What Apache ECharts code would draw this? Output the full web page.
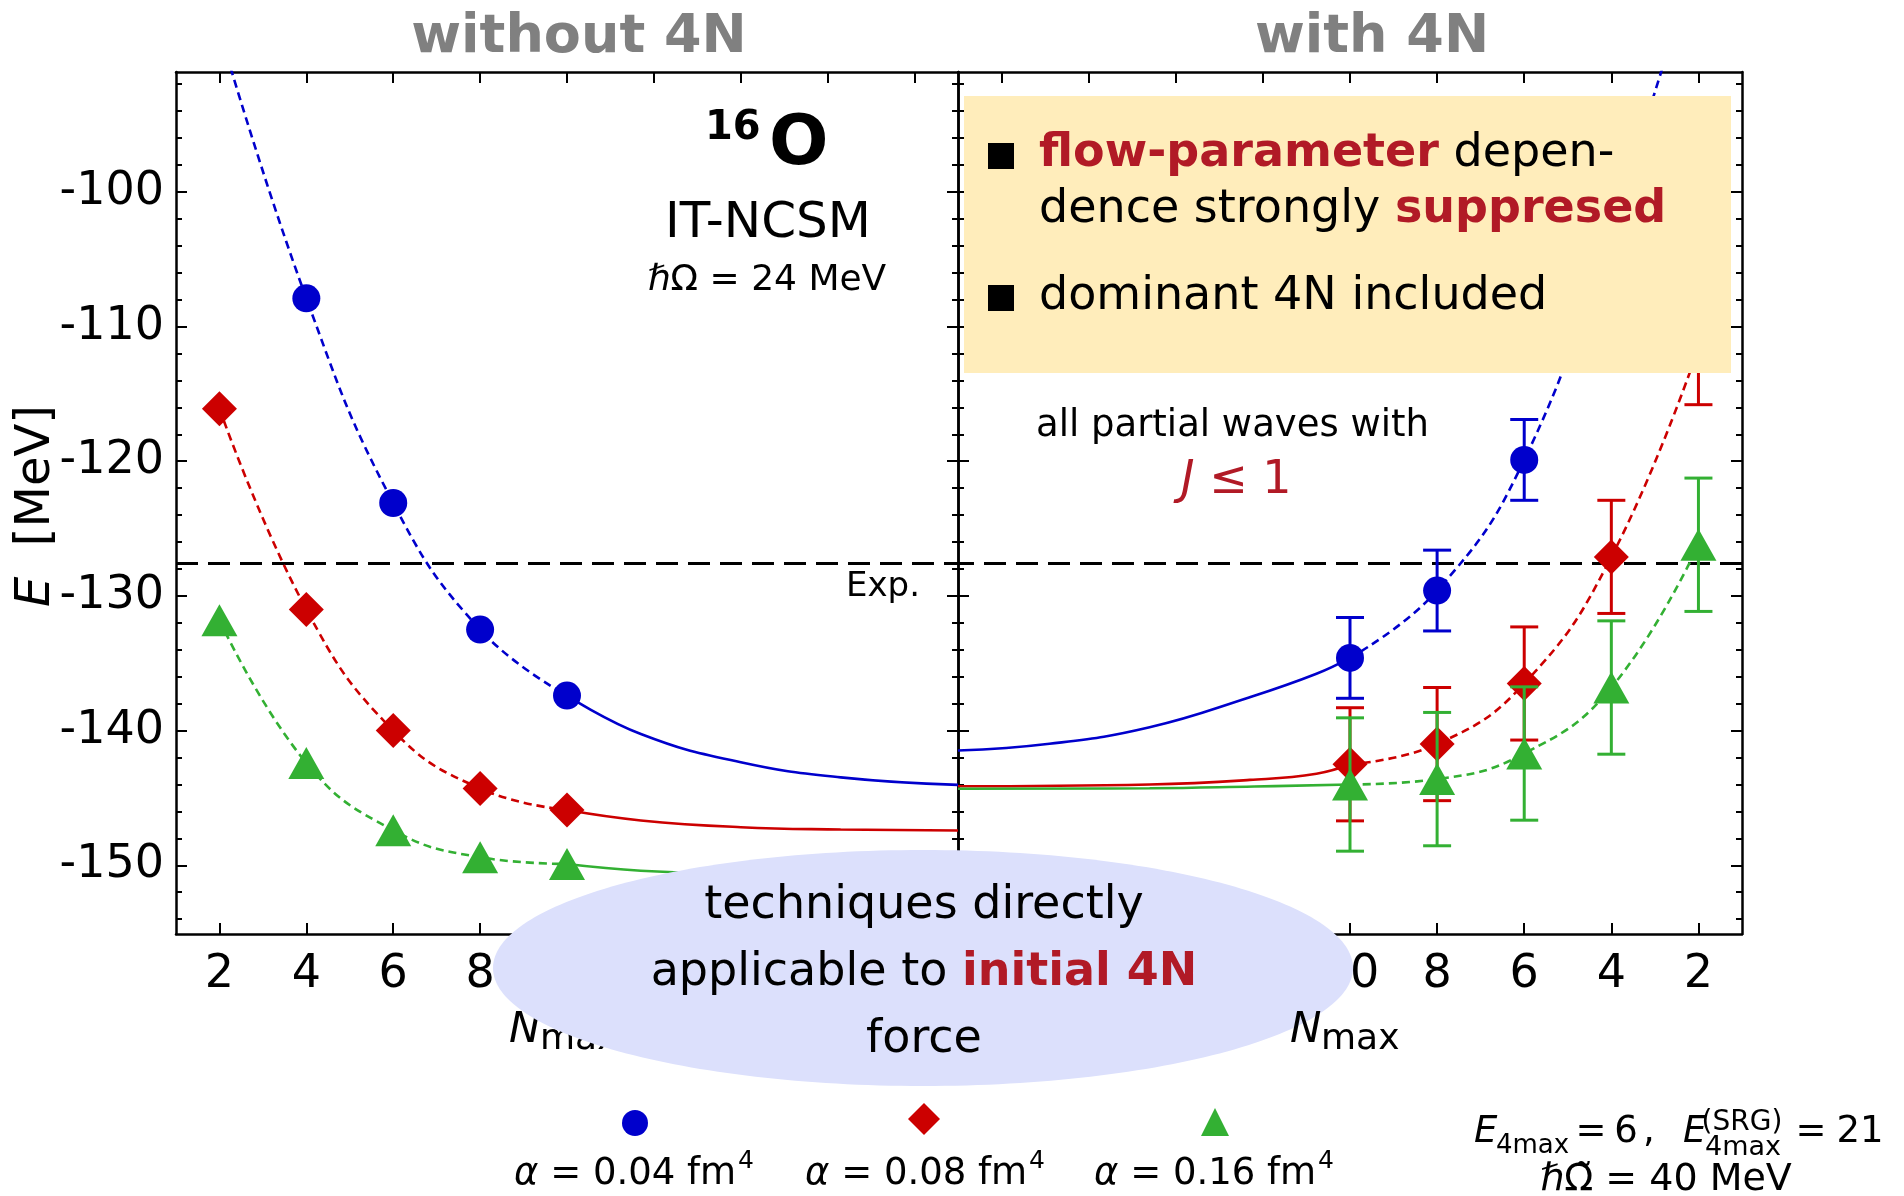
<!DOCTYPE html>
<html><head><meta charset="utf-8">
<script src="https://cdn.jsdelivr.net/npm/echarts@6/dist/echarts.min.js"></script>
<style>html,body{margin:0;padding:0;background:#fff}#c{width:1904px;height:1196px}</style>
</head><body><div id="c"></div>
<script>
// ---------------- data ----------------
const xTicks = [2, 4, 6, 8, 10, 12, 14, 16, 18];
const yMajor = [-150, -140, -130, -120, -110, -100];
const yMinor = [-154,-152,-148,-146,-144,-142,-138,-136,-134,-132,-128,-126,-124,-122,-118,-116,-114,-112,-108,-106,-104,-102,-98,-96,-94,-92];
const expEnergy = -127.6;
const seriesNames = ['α = 0.04 fm⁴', 'α = 0.08 fm⁴', 'α = 0.16 fm⁴'];
const alphaValues = ['0.04', '0.08', '0.16'];

// without 4N (left panel): [Nmax, E]
const noBlue  = [[2, -88.0], [4, -107.9], [6, -123.1], [8, -132.5], [10, -137.4]];
const noRed   = [[2, -116.1], [4, -131.0], [6, -140.0], [8, -144.3], [10, -145.9]];
const noGreen = [[2, -131.8], [4, -142.4], [6, -147.4], [8, -149.4], [10, -149.9]];
const noBlueExtrap  = [[10, -137.4], [11.7, -140.25], [14, -142.35], [16.3, -143.47], [19, -144.03]];
const noRedExtrap   = [[10, -145.9], [11.7, -146.67], [14, -147.17], [16.3, -147.34], [19, -147.42]];
const noGreenExtrap = [[10, -149.9], [11.7, -150.4], [14, -150.65], [16.3, -150.8], [19, -150.88]];

// with 4N (right panel): [Nmax, E, error]
const wBlue  = [[10, -134.6, 3.0], [8, -129.6, 3.0], [6, -119.9, 3.0], [4, -102.5, 3.0], [2, -82.0, 3.0]];
const wRed   = [[10, -142.5, 4.2], [8, -141.0, 4.2], [6, -136.5, 4.2], [4, -127.1, 4.2], [2, -111.6, 4.2]];
const wGreen = [[10, -144.0, 4.95], [8, -143.6, 4.95], [6, -141.7, 4.95], [4, -136.8, 4.95], [2, -126.2, 4.95]];
const wBlueExtrap  = [[10, -134.6], [10.77, -135.78], [12.3, -137.52], [14.6, -139.75], [16.9, -140.98], [19, -141.48]];
const wRedExtrap   = [[10, -142.5], [10.77, -143.2], [12.3, -143.66], [14.6, -144.0], [19, -144.13]];
const wGreenExtrap = [[10, -144.0], [12.2, -144.15], [14.6, -144.28], [19, -144.32]];

// ---------------- style ----------------
const FONT = 'DejaVu Sans';
const BLUE = '#0000cc', RED = '#cc0000', GREEN = '#33b033';
const HL = '#b11a26';
const GRAY = '#808080';

const chart = echarts.init(document.getElementById('c'), null, {renderer: 'canvas'});

const mctx = document.createElement('canvas').getContext('2d');
function tw(text, fs, italic) {
  mctx.font = (italic ? 'italic ' : '') + fs + 'px "' + FONT + '"';
  return mctx.measureText(text).width;
}

function xAx(grid, pos, inverse, labels) {
  return {
    gridIndex: grid, type: 'value', min: 1, max: 19, inverse: inverse, position: pos,
    axisLine: {show: true, onZero: false, lineStyle: {color: '#000', width: 2.5}},
    axisTick: {show: true, inside: true, length: 11, customValues: xTicks, lineStyle: {color: '#000', width: 2}},
    axisLabel: labels ? {show: true, customValues: xTicks, fontSize: 46, fontFamily: FONT, color: '#000', margin: 18} : {show: false},
    splitLine: {show: false}
  };
}
function yAx(grid, pos, vals, len, labels, line) {
  return {
    gridIndex: grid, type: 'value', min: -155.1, max: -91.1, position: pos,
    axisLine: {show: line, onZero: false, lineStyle: {color: '#000', width: 2.5}},
    axisTick: {show: true, inside: true, length: len, customValues: vals, lineStyle: {color: '#000', width: 2}},
    axisLabel: labels ? {show: true, customValues: yMajor, fontSize: 46, fontFamily: FONT, color: '#000', margin: 12} : {show: false},
    splitLine: {show: false}
  };
}

function lineS(data, color, dashed, xi, yi, z) {
  return {
    type: 'line', data: data, xAxisIndex: xi, yAxisIndex: yi, symbol: 'none', showSymbol: false,
    smooth: 0.45, clip: true, silent: true, z: z || 2,
    lineStyle: {color: color, width: 2.6, type: dashed ? [8, 5] : 'solid'}
  };
}
function scatS(name, data, color, symbol, size, xi, yi, z) {
  return {
    type: 'scatter', name: name, data: data.map(p => [p[0], p[1]]), xAxisIndex: xi, yAxisIndex: yi,
    symbol: symbol, symbolSize: size, clip: true, silent: true, z: z,
    itemStyle: {color: color, opacity: 1}
  };
}
function errS(data, color, xi, yi, z) {
  return {
    type: 'custom', data: data, xAxisIndex: xi, yAxisIndex: yi, clip: true, silent: true, z: z,
    encode: {x: 0, y: 1},
    renderItem: function (params, api) {
      const x = api.value(0), y = api.value(1), e = api.value(2);
      const t = api.coord([x, y + e]), b = api.coord([x, y - e]);
      const hw = 14, st = {stroke: color, lineWidth: 3};
      return {type: 'group', children: [
        {type: 'line', shape: {x1: t[0], y1: t[1], x2: b[0], y2: b[1]}, style: st},
        {type: 'line', shape: {x1: t[0] - hw, y1: t[1], x2: t[0] + hw, y2: t[1]}, style: st},
        {type: 'line', shape: {x1: b[0] - hw, y1: b[1], x2: b[0] + hw, y2: b[1]}, style: st}
      ]};
    }
  };
}
const xy = d => d.map(p => [p[0], p[1]]);
function expS(xi, yi) {
  const s = lineS([[1, expEnergy], [19, expEnergy]], '#000', false, xi, yi, 1);
  s.smooth = false;
  s.lineStyle = {color: '#000', width: 3, type: [22, 10]};
  return s;
}

const series = [
  // left panel
  expS(0, 0),
  lineS(noBlue, BLUE, true, 0, 0), lineS(noRed, RED, true, 0, 0), lineS(noGreen, GREEN, true, 0, 0),
  lineS(noBlueExtrap, BLUE, false, 0, 0), lineS(noRedExtrap, RED, false, 0, 0), lineS(noGreenExtrap, GREEN, false, 0, 0),
  scatS(seriesNames[0], noBlue, BLUE, 'circle', 28, 0, 0, 4),
  scatS(seriesNames[1], noRed, RED, 'diamond', 35, 0, 0, 6),
  scatS(seriesNames[2], noGreen, GREEN, 'triangle', [36, 32], 0, 0, 8),
  // right panel
  expS(2, 4),
  lineS(xy(wBlue), BLUE, true, 2, 4), lineS(xy(wRed), RED, true, 2, 4), lineS(xy(wGreen), GREEN, true, 2, 4),
  lineS(wBlueExtrap, BLUE, false, 2, 4), lineS(wRedExtrap, RED, false, 2, 4), lineS(wGreenExtrap, GREEN, false, 2, 4),
  errS(wBlue, BLUE, 2, 4, 3), scatS(seriesNames[0], wBlue, BLUE, 'circle', 28, 2, 4, 4),
  errS(wRed, RED, 2, 4, 5), scatS(seriesNames[1], wRed, RED, 'diamond', 35, 2, 4, 6),
  errS(wGreen, GREEN, 2, 4, 7), scatS(seriesNames[2], wGreen, GREEN, 'triangle', [36, 32], 2, 4, 8)
];

// ---------------- text helpers ----------------
const K = 0.33;
function tok(fs, o) {
  return Object.assign({fontSize: fs, fontFamily: FONT, fontWeight: 'normal', fontStyle: 'normal', fill: '#000'}, o || {});
}
function T(text, x, base, fs, o) {
  o = o || {};
  const align = o.align || 'left';
  const style = Object.assign({
    text: text, fontSize: fs, fontFamily: FONT, fill: o.fill || '#000',
    fontWeight: o.weight || 'normal', fontStyle: o.italic ? 'italic' : 'normal',
    align: align, textAlign: align, verticalAlign: 'middle', textVerticalAlign: 'middle'
  }, o.style || {});
  return Object.assign({type: 'text', x: x, y: base - K * fs, z: 60, silent: true, style: style}, o.el || {});
}

// legend labels: alpha = value fm^4 with a raised superscript
function alphaLabel(val, cx) {
  const fs = 37, sfs = 25;
  const w1 = tw('α', fs, true), w2 = tw(' = ' + val + ' fm', fs, false), w3 = tw('4', sfs, false);
  const left = cx - (w1 + w2 + 2 + w3) / 2;
  return [
    T('{i|α}{n| = ' + val + ' fm}', left, 1187, fs, {style: {rich: {i: tok(fs, {fontStyle: 'italic'}), n: tok(fs)}}}),
    T('4', left + w1 + w2 + 2, 1170, sfs)
  ];
}

const elements = [
  // titles
  T('without 4N', 579, 56, 54, {align: 'center', weight: 'bold', fill: GRAY}),
  T('with 4N', 1372, 56, 54, {align: 'center', weight: 'bold', fill: GRAY}),
  // 16O
  T('16', 705, 142, 40, {weight: 'bold'}),
  T('O', 769, 169, 70, {weight: 'bold'}),
  T('IT-NCSM', 768, 241, 50, {align: 'center'}),
  T('{i|ℏ}{n|Ω = 24 MeV}', 767, 293, 36, {align: 'center', style: {rich: {i: tok(36, {fontStyle: 'italic'}), n: tok(36)}}}),
  T('Exp.', 920, 598, 34, {align: 'right'}),
  // yellow box
  {type: 'rect', shape: {x: 964, y: 96, width: 767, height: 277}, style: {fill: '#ffedbb'}, z: 50, silent: true},
  {type: 'rect', shape: {x: 988, y: 143, width: 26, height: 26}, style: {fill: '#000'}, z: 60, silent: true},
  {type: 'rect', shape: {x: 988, y: 285, width: 26, height: 26}, style: {fill: '#000'}, z: 60, silent: true},
  T('{b|flow-parameter}{n| depen-}', 1039, 169, 46, {style: {rich: {b: tok(46, {fontWeight: 'bold', fill: HL}), n: tok(46)}}}),
  T('{n|dence strongly }{b|suppresed}', 1039, 225, 46, {style: {rich: {b: tok(46, {fontWeight: 'bold', fill: HL}), n: tok(46)}}}),
  T('dominant 4N included', 1039, 312, 46),
  // partial waves note
  T('all partial waves with', 1036, 439, 37),
  T('{i|J}{n| ≤ 1}', 1181, 496, 46, {style: {rich: {i: tok(46, {fontStyle: 'italic', fill: HL}), n: tok(46, {fill: HL})}}}),
  // ellipse
  {type: 'ellipse', shape: {cx: 923, cy: 968, rx: 430, ry: 118}, style: {fill: '#dce0fc'}, z: 50, silent: true},
  T('techniques directly', 924, 921, 46, {align: 'center'}),
  T('{n|applicable to }{b|initial 4N}', 924, 988, 46, {align: 'center', style: {rich: {b: tok(46, {fontWeight: 'bold', fill: HL}), n: tok(46)}}}),
  T('force', 924, 1055, 46, {align: 'center'}),
  // axis names
  T('N', 509, 1045, 42, {italic: true, el: {z: 40}}),
  T('max', 540, 1052, 36, {el: {z: 40}}),
  T('N', 1290, 1045, 42, {italic: true}),
  T('max', 1321, 1052, 36),
  T('{i|E}{n|  [MeV]}', 37, 506, 48, {align: 'center', el: {rotation: Math.PI / 2, y: 506}, style: {rich: {i: tok(48, {fontStyle: 'italic'}), n: tok(48)}}}),
  // bottom-right parameters
  T('E', 1474, 1145, 37, {italic: true}),
  T('4max', 1496, 1155, 26),
  T('=', 1591, 1145, 37, {align: 'center'}),
  T('6', 1626, 1145, 37, {align: 'center'}),
  T(',', 1649, 1145, 37, {align: 'center'}),
  T('E', 1683, 1145, 37, {italic: true}),
  T('(SRG)', 1742, 1132, 28, {align: 'center'}),
  T('4max', 1705, 1157, 27),
  T('=', 1811, 1145, 37, {align: 'center'}),
  T('21', 1860, 1145, 37, {align: 'center'}),
  T('{i|ℏ}{n|Ω̃ = 40 MeV}', 1666, 1193, 38, {align: 'center', style: {rich: {i: tok(38, {fontStyle: 'italic'}), n: tok(38)}}})
].concat(alphaLabel(alphaValues[0], 634), alphaLabel(alphaValues[1], 925), alphaLabel(alphaValues[2], 1214));

function legendAt(name, icon, left, top, w, h) {
  return {
    data: [{name: name, icon: icon}], left: left, top: top, padding: 0, itemGap: 0,
    itemWidth: w, itemHeight: h, selectedMode: false, formatter: function () { return ''; },
    textStyle: {fontSize: 1, padding: 0}
  };
}

chart.setOption({
  animation: false,
  backgroundColor: '#fff',
  grid: [
    {left: 176, top: 72, width: 782, height: 862, containLabel: false},
    {left: 958, top: 72, width: 784, height: 862, containLabel: false}
  ],
  xAxis: [xAx(0, 'bottom', false, true), xAx(0, 'top', false, false), xAx(1, 'bottom', true, true), xAx(1, 'top', true, false)],
  yAxis: [
    yAx(0, 'left', yMajor, 11, true, true), yAx(0, 'left', yMinor, 6, false, false),
    yAx(0, 'right', yMajor, 11, false, true), yAx(0, 'right', yMinor, 6, false, false),
    yAx(1, 'left', yMajor, 11, false, true), yAx(1, 'left', yMinor, 6, false, false),
    yAx(1, 'right', yMajor, 11, false, true), yAx(1, 'right', yMinor, 6, false, false)
  ],
  legend: [
    legendAt(seriesNames[0], 'circle', 622, 1110, 26, 26),
    legendAt(seriesNames[1], 'diamond', 908, 1103, 32, 32),
    legendAt(seriesNames[2], 'triangle', 1201, 1108, 28, 28)
  ],
  series: series,
  graphic: {elements: elements}
});
</script>
</body></html>
